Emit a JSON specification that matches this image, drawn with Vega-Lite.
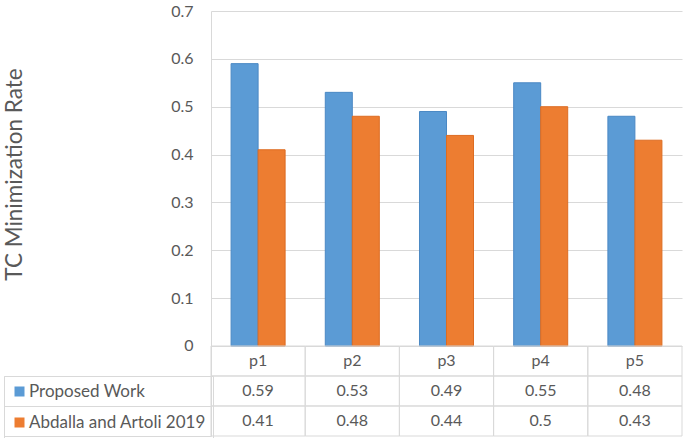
{
  "$schema": "https://vega.github.io/schema/vega-lite/v6.json",
  "width": 471,
  "height": 425,
  "autosize": {"type": "none"},
  "padding": {"left": 211, "top": 11, "right": 3, "bottom": 2},
  "background": "white",
  "config": {"view": {"stroke": null}, "font": "Lato"},
  "data": {
    "values": [
      {"cat": "p1", "series": "Proposed Work", "value": 0.59},
      {"cat": "p2", "series": "Proposed Work", "value": 0.53},
      {"cat": "p3", "series": "Proposed Work", "value": 0.49},
      {"cat": "p4", "series": "Proposed Work", "value": 0.55},
      {"cat": "p5", "series": "Proposed Work", "value": 0.48},
      {"cat": "p1", "series": "Abdalla and Artoli 2019", "value": 0.41},
      {"cat": "p2", "series": "Abdalla and Artoli 2019", "value": 0.48},
      {"cat": "p3", "series": "Abdalla and Artoli 2019", "value": 0.44},
      {"cat": "p4", "series": "Abdalla and Artoli 2019", "value": 0.5},
      {"cat": "p5", "series": "Abdalla and Artoli 2019", "value": 0.43}
    ]
  },
  "resolve": {"scale": {"y": "independent"}, "axis": {"y": "independent"}},
  "layer": [
    {
      "mark": {"type": "bar", "strokeWidth": 1},
      "encoding": {
        "x": {"field": "cat", "type": "nominal", "scale": {"paddingInner": 0, "paddingOuter": 0}, "axis": null},
        "xOffset": {"field": "series", "type": "nominal", "scale": {"domain": ["Proposed Work", "Abdalla and Artoli 2019"], "paddingInner": 0, "paddingOuter": 0.744}},
        "y": {
          "field": "value", "type": "quantitative",
          "scale": {"domain": [-0.1881, 0.7], "nice": false, "zero": false},
          "axis": {
            "orient": "left",
            "values": [0, 0.1, 0.2, 0.3, 0.4, 0.5, 0.6, 0.7],
            "format": "~g",
            "grid": true, "gridColor": "#D9D9D9", "gridWidth": 1,
            "domain": true, "domainColor": "#D9D9D9",
            "ticks": false,
            "labelPadding": 18, "labelFontSize": 16, "labelColor": "#595959", "labelFont": "Lato",
            "title": "TC Minimization Rate", "titleFont": "Lato", "titleFontSize": 22.5, "titleFontWeight": "normal", "titleColor": "#595959",
            "titleX": -190, "titleY": 163, "titleAngle": 270, "titleBaseline": "alphabetic", "titleAlign": "center"
          }
        },
        "color": {
          "field": "series", "type": "nominal",
          "scale": {"domain": ["Proposed Work", "Abdalla and Artoli 2019"], "range": ["#5B9BD5", "#ED7D31"]},
          "legend": {
            "orient": "none", "legendX": -207, "legendY": 365, "title": null, "direction": "vertical",
            "symbolType": "square", "symbolSize": 100, "symbolStrokeWidth": 0,
            "labelFontSize": 17, "labelColor": "#595959", "labelFont": "Lato", "labelOffset": 1, "labelLimit": 300,
            "padding": 7, "rowPadding": 13, "strokeColor": "#D9D9D9"
          }
        },
        "stroke": {
          "field": "series", "type": "nominal",
          "scale": {"domain": ["Proposed Work", "Abdalla and Artoli 2019"], "range": ["#4A88C4", "#DD6C22"]},
          "legend": null
        }
      }
    },
    {
      "layer": [
        {
          "mark": {"type": "rect", "filled": false, "stroke": "#D9D9D9", "strokeWidth": 1},
          "encoding": {
            "x": {"field": "cat", "type": "nominal"},
            "y": {
              "field": "series", "type": "nominal",
              "scale": {"domain": ["header", "Proposed Work", "Abdalla and Artoli 2019"], "range": [335, 425], "paddingInner": 0, "paddingOuter": 0},
              "axis": {"orient": "left", "bandPosition": 1, "labels": false, "domain": false, "grid": false, "ticks": true, "tickSize": 207, "tickColor": "#D9D9D9", "tickWidth": 1, "title": null}
            }
          }
        },
        {
          "transform": [{"filter": "datum.series === 'Proposed Work'"}],
          "mark": {"type": "rect", "filled": false, "stroke": "#D9D9D9", "strokeWidth": 1},
          "encoding": {
            "x": {"field": "cat", "type": "nominal"},
            "y": {"datum": "header", "type": "nominal"}
          }
        },
        {
          "mark": {"type": "text", "fontSize": 16, "color": "#595959", "font": "Lato", "baseline": "middle"},
          "encoding": {
            "x": {"field": "cat", "type": "nominal"},
            "y": {"field": "series", "type": "nominal"},
            "text": {"field": "value", "type": "nominal"}
          }
        },
        {
          "transform": [{"filter": "datum.series === 'Proposed Work'"}],
          "mark": {"type": "text", "fontSize": 16, "color": "#595959", "font": "Lato", "baseline": "middle"},
          "encoding": {
            "x": {"field": "cat", "type": "nominal"},
            "y": {"datum": "header", "type": "nominal"},
            "text": {"field": "cat", "type": "nominal"}
          }
        }
      ]
    }
  ]
}
